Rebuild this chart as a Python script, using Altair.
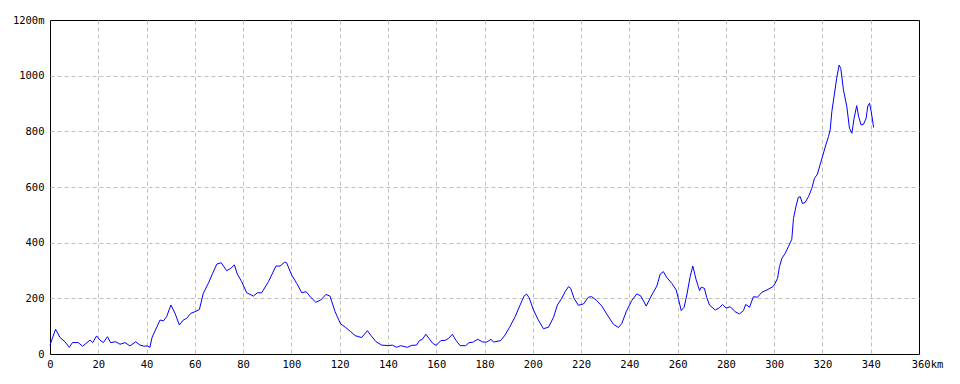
import altair as alt
import pandas as pd

km = [0, 2.3, 4.1, 6.2, 8.0, 9.3, 11.7, 13.5, 16.6, 17.7, 19.3, 20.7, 22.1, 23.8, 25.1, 27.3, 29.0,
      31.1, 33.1, 35.5, 37.3, 39.0, 40.3, 41.4, 42.3, 45.6, 47.0, 48.3, 50.1, 51.8, 53.6, 55.2, 56.6,
      58.3, 60.1, 61.9, 63.5, 65.6, 67.4, 69.1, 70.9, 73.2, 74.9, 76.4, 77.6, 79.4, 81.5, 84.3, 85.9,
      87.7, 90.5, 93.6, 95.3, 97.2, 98.0, 100.1, 102.2, 104.3, 106.1, 108.0, 110.1, 112.2, 114.3,
      116.0, 118.1, 120.4, 122.5, 124.6, 126.4, 129.1, 131.5, 132.8, 135.1, 137.4, 140.2, 141.8,
      143.6, 145.3, 148.0, 149.9, 151.9, 153.0, 154.3, 155.7, 157.0, 158.6, 160.0, 161.9, 163.7,
      165.1, 166.7, 168.1, 169.9, 172.2, 173.6, 175.1, 177.2, 179.3, 181.0, 182.7, 183.7, 186.7,
      188.5, 190.3, 192.7, 194.7, 196.5, 197.5, 198.5, 200.3, 202.3, 204.4, 206.5, 208.6, 210.2,
      212.0, 213.4, 214.8, 215.7, 217.1, 218.9, 221.0, 223.0, 224.4, 226.5, 228.6, 230.9, 233.4,
      235.5, 236.9, 238.7, 241.0, 243.1, 244.8, 247.0, 249.3, 251.4, 252.8, 254.1, 255.5, 257.6,
      259.4, 260.4, 261.5, 262.7, 263.8, 265.2, 266.3, 267.7, 269.1, 269.8, 271.1, 272.1, 273.2,
      275.6, 277.3, 278.6, 280.1, 281.8, 283.8, 285.6, 287.3, 288.2, 289.8, 291.4, 293.1, 294.9,
      297.0, 299.5, 300.4, 301.4, 302.2, 303.2, 304.6, 305.9, 307.3, 308.0, 309.0, 310.0, 310.8,
      311.7, 312.8, 314.2, 315.6, 316.7, 317.9, 319.0, 320.2, 321.4, 322.5, 323.2, 323.9, 324.9,
      326.0, 326.9, 327.6, 328.7, 330.1, 331.2, 332.2, 333.1, 334.2, 335.0, 336.0, 337.0, 338.1,
      338.8, 339.5, 340.2, 341.2]

elev = [32, 89, 60, 44, 24, 41, 41, 28, 50, 41, 65, 50, 41, 62, 41, 44, 35,
        41, 29, 44, 32, 28, 29, 24, 60, 122, 119, 134, 176, 146, 104, 122, 128,
        146, 152, 160, 218, 254, 290, 323, 328, 299, 308, 320, 287, 260, 220, 208, 220,
        220, 260, 316, 316, 330, 328, 284, 254, 220, 224, 204, 186, 194, 214,
        208, 152, 108, 95, 80, 66, 59, 84, 68, 44, 32, 30, 32,
        24, 30, 24, 31, 32, 48, 53, 71, 56, 38, 31, 48, 49,
        56, 71, 50, 30, 30, 41, 42, 53, 43, 43, 53, 43, 48,
        68, 95, 134, 175, 210, 215, 202, 158, 122, 91, 96, 132, 176,
        200, 224, 242, 236, 200, 175, 180, 204, 206, 192, 172, 140, 107,
        95, 110, 152, 192, 216, 208, 172, 212, 244, 287, 296, 275, 254,
        230, 196, 156, 168, 212, 278, 316, 266, 228, 240, 236, 202, 176,
        158, 166, 178, 165, 170, 152, 144, 156, 178, 168, 206, 204, 222,
        230, 242, 254, 272, 314, 344, 362, 386, 412, 487, 529, 563, 565,
        541, 544, 565, 595, 631, 646, 679, 715, 751, 781, 805, 871, 931,
        996, 1038, 1026, 949, 889, 811, 793, 847, 892, 853, 823, 825, 847,
        891, 901, 871, 814]

x_ticks = list(range(0, 361, 20))
y_ticks = list(range(0, 1201, 200))

df = pd.DataFrame({"km": km, "elev": elev})

FONT = "DejaVu Sans Mono"

x_axis = alt.Axis(
    values=x_ticks, title=None, domain=False, ticks=False, labelPadding=5,
    labelFont=FONT, labelFontSize=10.5, labelColor="black",
    labelExpr="datum.value == 360 ? '360km' : datum.label",
    labelOffset={"condition": {"test": "datum.value == 360", "value": 8}, "value": 0},
    grid=True, gridColor="#c0c0c0", gridDash=[4, 3], gridWidth=1,
    gridOpacity={"condition": {"test": "datum.value == 0 || datum.value == 360", "value": 0}, "value": 1},
    labelFlush=False, labelOverlap=False,
)
y_axis = alt.Axis(
    values=y_ticks, title=None, domain=False, ticks=False, labelPadding=6,
    labelFont=FONT, labelFontSize=10.5, labelColor="black",
    labelExpr="datum.value == 1200 ? '1200m' : datum.label",
    grid=True, gridColor="#c0c0c0", gridDash=[4, 3], gridWidth=1,
    gridOpacity={"condition": {"test": "datum.value == 0 || datum.value == 1200", "value": 0}, "value": 1},
    labelFlush=False, labelOverlap=False, format="d",
)

chart = alt.Chart(df).mark_line(color="#0000ff", strokeWidth=1).encode(
    x=alt.X("km:Q", scale=alt.Scale(domain=[0, 360], nice=False, zero=False), axis=x_axis),
    y=alt.Y("elev:Q", scale=alt.Scale(domain=[0, 1200], nice=False), axis=y_axis),
).properties(
    width=869, height=334,
    autosize=alt.AutoSizeParams(type="none"),
    padding={"left": 50, "top": 20, "right": 41, "bottom": 30},
    background="white",
).configure_view(stroke="black", strokeWidth=1)

chart.save("out.html", embed_options={"renderer": "svg", "actions": False})
